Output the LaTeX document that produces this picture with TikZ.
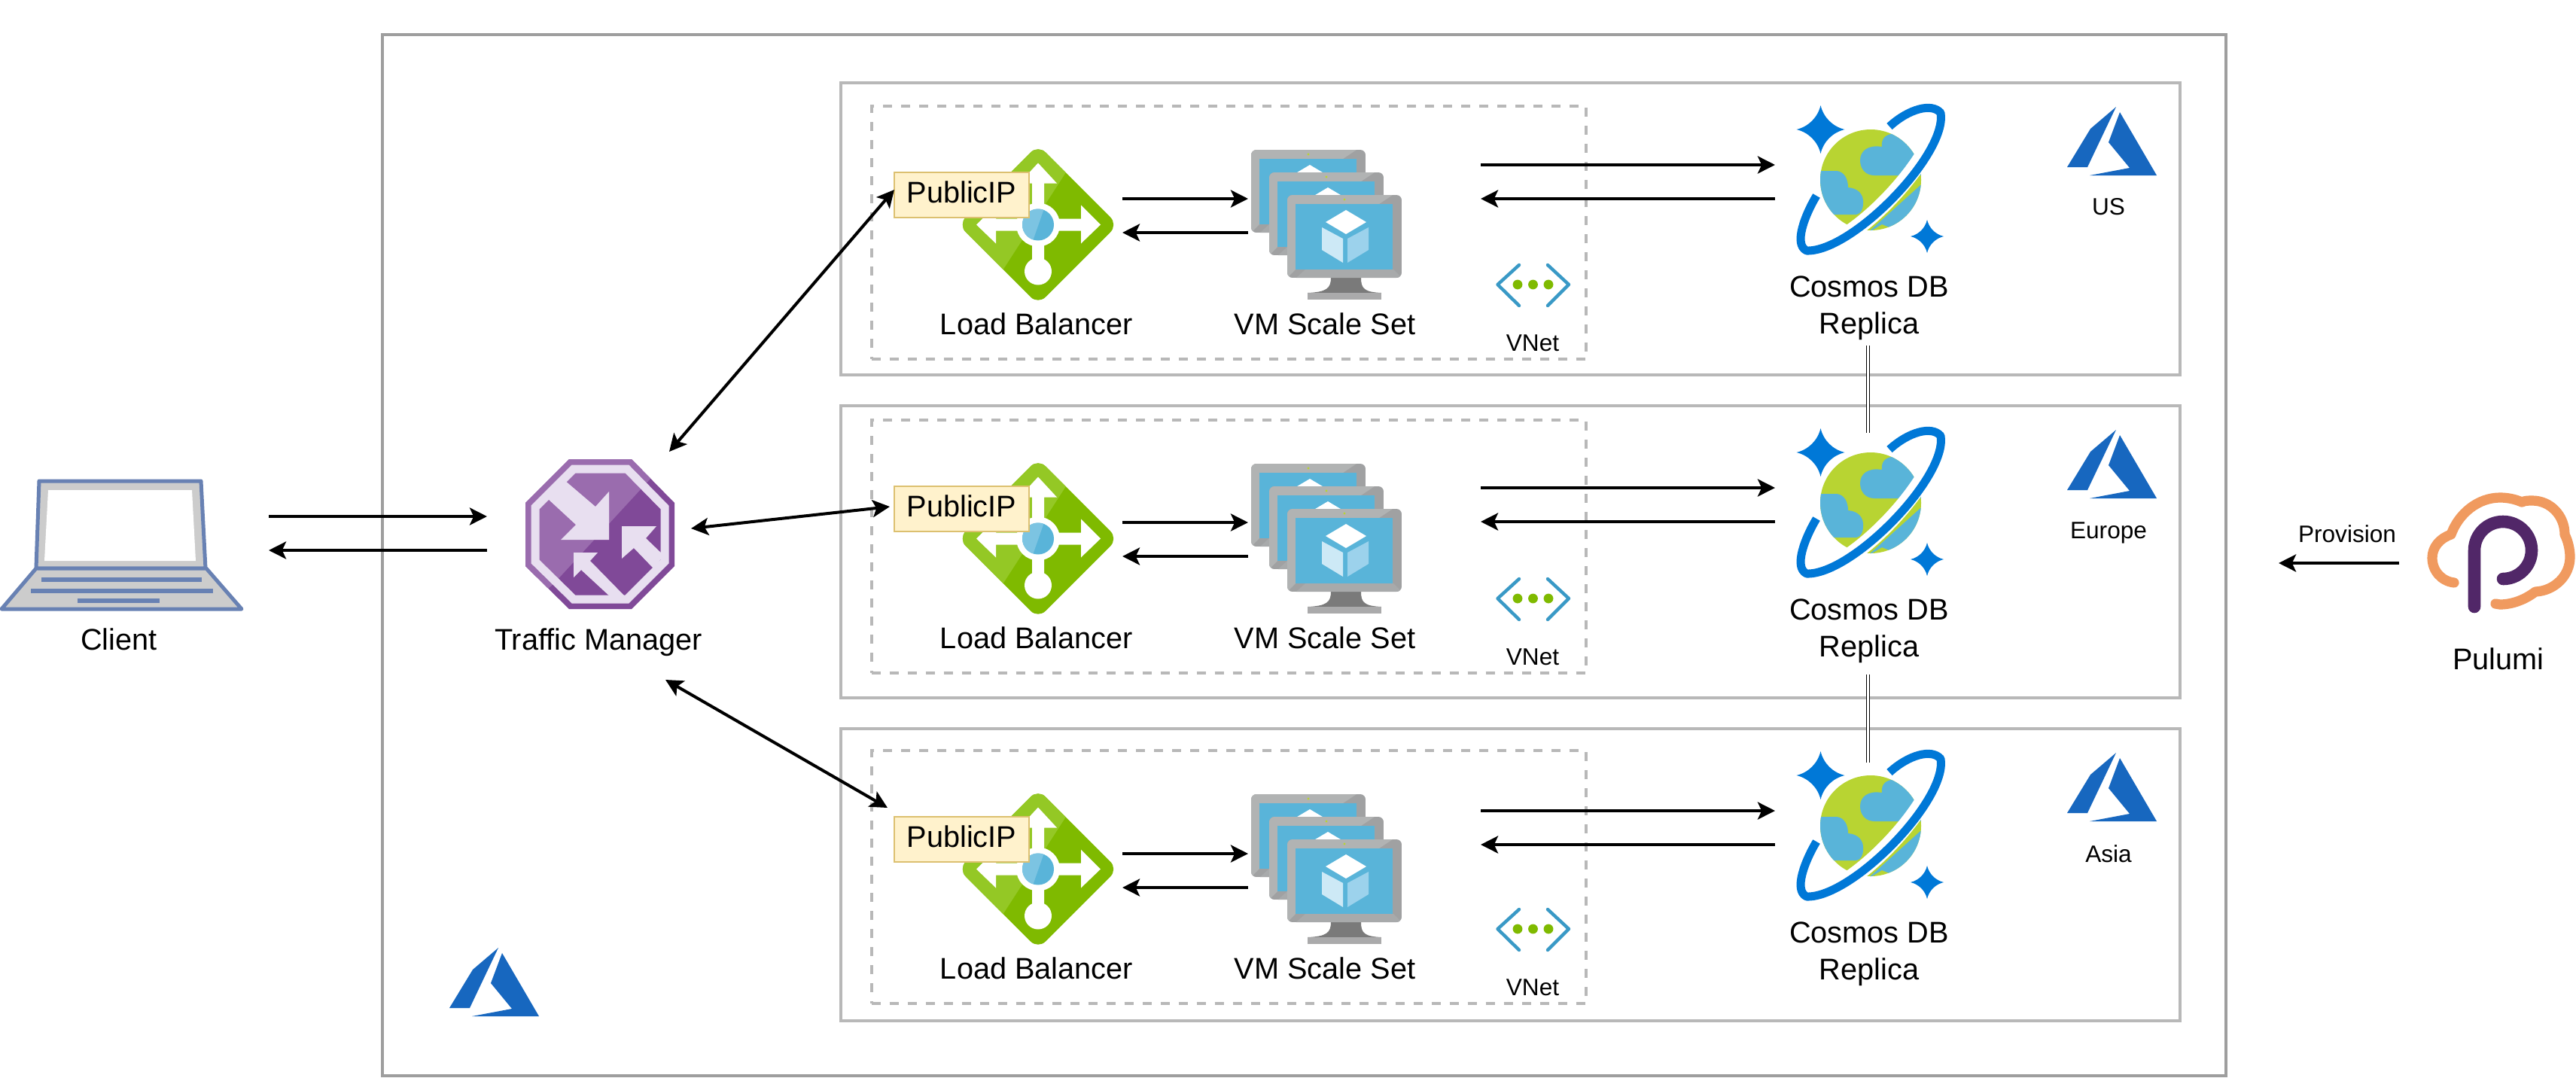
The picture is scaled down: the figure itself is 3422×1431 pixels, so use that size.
\documentclass[tikz,border=0pt]{standalone}
\usepackage{fontspec}
\setmainfont{Liberation Sans}
\usetikzlibrary{arrows.meta,calc}
\definecolor{frameC}{HTML}{9E9E9E}
\definecolor{regC}{HTML}{B8B8B8}
\definecolor{azureC}{HTML}{1767BF}
\definecolor{lbC}{HTML}{7FBA00}
\definecolor{lbL}{HTML}{94C825}
\definecolor{skyC}{HTML}{59B4D9}
\definecolor{skyL}{HTML}{7CC4E2}
\definecolor{monD}{HTML}{A0A1A2}
\definecolor{monL}{HTML}{B1B3B3}
\definecolor{monM}{HTML}{A8AAAB}
\definecolor{cubeL}{HTML}{CDE9F6}
\definecolor{cubeR}{HTML}{9CD2EC}
\definecolor{cosC}{HTML}{0078D7}
\definecolor{globeC}{HTML}{B8D432}
\definecolor{vnetC}{HTML}{3999C6}
\definecolor{tmD}{HTML}{804998}
\definecolor{tmM}{HTML}{9A6CAE}
\definecolor{tmL}{HTML}{E8DFF0}
\definecolor{lapC}{HTML}{6881B3}
\definecolor{pipF}{HTML}{FFF2CC}
\definecolor{pipS}{HTML}{DCC070}
\definecolor{pulO}{HTML}{F09A5F}
\definecolor{pulP}{HTML}{512768}
\tikzset{
  hit/.style={inner sep=0pt,outer sep=0pt,draw=none},
  framebox/.style={inner sep=0pt,outer sep=0pt,draw=frameC,line width=2pt},
  regionbox/.style={inner sep=0pt,outer sep=0pt,draw=regC,line width=2pt},
  vnetbox/.style={inner sep=0pt,outer sep=0pt,draw=regC,line width=2pt,dash pattern=on 6pt off 6pt},
  lbl/.style={inner sep=0pt,outer sep=0pt,font=\fontsize{19.85}{24.5}\selectfont,align=center},
  sml/.style={inner sep=0pt,outer sep=0pt,font=\fontsize{15.8}{19}\selectfont,align=center},
  pipbox/.style={inner sep=0pt,outer sep=0pt,draw=pipS,fill=pipF,line width=1pt,text depth=4pt,font=\fontsize{19.85}{24}\selectfont},
  tipA/.tip={Stealth[length=11.5pt,width=11.5pt,inset=2.6pt]},
  arr/.style={draw=black,line width=2pt,-{tipA}},
  arrb/.style={draw=black,line width=2pt,{tipA}-{tipA}},
  link/.style={draw=black,line width=0.65pt,double=white,double distance=1.35pt},
}
\newcommand\azlogo[2]{%
  \begin{scope}[shift={(#1,#2)}]
    \fill[azureC] (65,0) -- (31,29) -- (0,80) -- (27,80) -- cycle;
    \fill[azureC] (70,7) -- (55,47) -- (83,81) -- (30,91) -- (119,91) -- cycle;
  \end{scope}}
\newcommand\monitor[2]{%
  \begin{scope}[shift={(#1,#2)}]
    \begin{scope}
      \clip[rounded corners=3.5pt] (0,0) rectangle (152,110);
      \fill[monD] (0,0) rectangle (152,110);
      \fill[monL] (0,0) -- (140,0) -- (122,12) -- (11,12) -- (11,99) -- (0,110) -- cycle;
      \fill[monM] (24,99) -- (141,99) -- (152,110) -- (12,110) -- cycle;
    \end{scope}
    \fill[skyC] (11,12) rectangle (140,99);
    \fill[globeC] (76,6) circle[radius=0.8pt];
    \fill[white] (78,20) -- (105,36) -- (78,52) -- (51,36) -- cycle;
    \fill[cubeL] (46,43) -- (74,58) -- (74,90) -- (46,73) -- cycle;
    \fill[cubeR] (80,58) -- (108,43) -- (108,73) -- (80,90) -- cycle;
  \end{scope}}
\newcommand\sparkle[3]{%
  \fill[cosC] (#1,#2-#3) .. controls (#1+0.12*#3,#2-0.5*#3) and (#1+0.5*#3,#2-0.12*#3) .. (#1+#3,#2)
    .. controls (#1+0.5*#3,#2+0.12*#3) and (#1+0.12*#3,#2+0.5*#3) .. (#1,#2+#3)
    .. controls (#1-0.12*#3,#2+0.5*#3) and (#1-0.5*#3,#2+0.12*#3) .. (#1-#3,#2)
    .. controls (#1-0.5*#3,#2-0.12*#3) and (#1-0.12*#3,#2-0.5*#3) .. cycle;}
% #1 suffix, #2 region offset, #3 inner offset, #4 LB arrow offset, #5 region name, #6 region-label y
\newcommand\regionrow[6]{%
  \node[regionbox,minimum width=889.5pt,minimum height=194pt] (region#1) at (2006.5,304+#2) {};
  \node[vnetbox,minimum width=474.75pt,minimum height=168pt] (vnet#1) at (1632.25,309+#3) {};
  % load balancer
  \begin{scope}[shift={(1379,298.5+#3)}]
    \begin{scope}
      \clip[rounded corners=7pt] (0,-106) -- (106,0) -- (0,106) -- (-106,0) -- cycle;
      \fill[lbC] (-120,-120) rectangle (120,120);
      \fill[lbL] (36,-68) -- (-46,59) -- (-46,120) -- (-120,120) -- (-120,-120) -- (36,-120) -- cycle;
    \end{scope}
    \fill[white] (0,-82) -- (25,-55) -- (8,-55) -- (8,-8) -- (57,-8) -- (57,-26) -- (83,0) -- (57,25) -- (57,8)
      -- (8,8) -- (8,60) -- (-8,60) -- (-8,8) -- (-56,8) -- (-56,25) -- (-82,0) -- (-56,-26) -- (-56,-8)
      -- (-8,-8) -- (-8,-55) -- (-25,-55) -- cycle;
    \fill[white] (0,0) circle[radius=14.5pt];
    \fill[skyC] (0,0) circle[radius=10.5pt];
    \begin{scope}
      \clip (0,0) circle[radius=10.5pt];
      \fill[skyL] (-30,-30) -- (11,-30) -- (-10,30) -- (-30,30) -- cycle;
    \end{scope}
    \fill[white] (0,62) circle[radius=9pt];
  \end{scope}
  \node[hit,minimum width=112pt,minimum height=100pt] (lb#1) at (1379,298+#3) {};
  \node[pipbox,minimum width=89.5pt,minimum height=30pt] (pip#1) at (1277.5,259+#3) {PublicIP};
  \node[lbl] (lbl#1) at (1377,430+#3) {Load Balancer};
  % VM scale set
  \monitor{1662}{199+#3}
  \monitor{1686}{229+#3}
  \begin{scope}[shift={(0,#3)}]
    \fill[black!52] (1768,369) -- (1808,369) .. controls (1808,383) and (1812,388) .. (1835,389) -- (1737,389) .. controls (1762,388) and (1768,383) .. (1768,369) -- cycle;
    \fill[monD!90] (1737,389) rectangle (1835,398);
  \end{scope}
  \monitor{1710}{259+#3}
  \node[hit,minimum width=154.5pt,minimum height=100pt] (vm#1) at (1812.5,298+#3) {};
  \node[lbl] (vml#1) at (1760,430+#3) {VM Scale Set};
  % vnet icon
  \begin{scope}[shift={(0,#3)}]
    \draw[vnetC,line width=2.2pt,line join=round,line cap=round] (2018,352) -- (1989.5,378) -- (2018,406);
    \draw[vnetC,line width=2.2pt,line join=round,line cap=round] (2056,352) -- (2084,378) -- (2056,406);
    \fill[lbC] (2016,378) circle[radius=3.2pt];
    \fill[lbC] (2036.5,378) circle[radius=3.2pt];
    \fill[lbC] (2057,378) circle[radius=3.2pt];
  \end{scope}
  \node[sml] (vnl#1) at (2036,456+#3) {VNet};
  % cosmos
  \begin{scope}[shift={(0,#2)}]
    \sparkle{2418.5}{172}{32}
    \sparkle{2560}{314}{22}
    \begin{scope}
      \clip (2485,239) circle[radius=33.5pt];
      \fill[globeC] (2400,160) rectangle (2570,320);
      \fill[skyC] (2512,178) .. controls (2502,180) and (2499,187) .. (2500,195)
        .. controls (2482,192) and (2471,200) .. (2471,213)
        .. controls (2471,224) and (2478,233) .. (2490,233) -- (2560,233) -- (2560,170) -- cycle;
      \fill[skyC] (2410,227) -- (2440,227) .. controls (2450,228) and (2455,238) .. (2455,249)
        .. controls (2468,250) and (2476,258) .. (2475,270)
        .. controls (2475,278) and (2472,284) .. (2466,285) -- (2410,285) -- cycle;
      \fill[skyC] (2560,238) -- (2480,310) -- (2500,298) -- (2510,302) -- (2560,310) -- cycle;
    \end{scope}
    \draw[white,line width=11pt] (2578,150) .. controls (2570,215) and (2460,330) .. (2400,334);
    \draw[white,line width=6pt] (2510,168) -- (2530,152);
    \draw[cosC,line width=5.5pt,line join=round]
      (2510,168) .. controls (2535,145) and (2566,136) .. (2578,150)
      .. controls (2587,205) and (2460,335) .. (2400,333)
      .. controls (2382,325) and (2398,285) .. (2413,260);
  \end{scope}
  \node[hit,minimum width=123.3pt,minimum height=93pt] (cosmos#1) at (2481.3,239+#2) {};
  \node[lbl] (cdb#1) at (2483,409+#2) {Cosmos DB\\Replica};
  \azlogo{2746}{142+#2}
  \node[sml] (rn#1) at (2801,#6) {#5};
  % connectors inside the row
  \draw[arr] ($(lb#1.east)+(0,264+#4-298-#3)$) -- ($(vm#1.west)+(0,264+#4-298-#3)$);
  \draw[arr] ($(vm#1.west)+(0,309+#4-298-#3)$) -- ($(lb#1.east)+(0,309+#4-298-#3)$);
  \draw[arr] ($(vm#1.east)+(0,219+#2-298-#3)$) -- ($(cosmos#1.west)+(0,219+#2-239-#2)$);
  \draw[arr] ($(cosmos#1.west)+(0,264+#2-239-#2)$) -- ($(vm#1.east)+(0,264+#2-298-#3)$);
}
\begin{document}
\begin{tikzpicture}[x=0.5pt,y=-0.5pt]
\useasboundingbox (0,0) rectangle (3422,1431);
\fill[white] (0,0) rectangle (3422,1431);
\node[framebox,minimum width=1224.5pt,minimum height=691.5pt] (azure) at (1732,737.75) {};
\azlogo{597}{1259}
\regionrow{1}{0}{0}{0}{US}{275}
\regionrow{2}{429}{417}{430}{Europe}{707.5}
\regionrow{3}{858}{856}{870}{Asia}{1134}
% client
\draw[lapC,line width=2.5pt,fill=black!20,line join=round] (52,639) -- (267,639) -- (273,755) -- (48,755) -- cycle;
\fill[white] (64,651) -- (255,651) -- (260,745) -- (59,745) -- cycle;
\draw[lapC,line width=2.5pt,fill=black!20,line join=round] (48,755) -- (274,755) -- (321,809) -- (2,809) -- cycle;
\fill[lapC] (55,767) rectangle (268,773);
\fill[lapC] (41,782) rectangle (282.5,787.5);
\fill[lapC] (103,795) rectangle (212,801);
\node[hit,minimum width=178pt,minimum height=90pt] (client) at (179,708.5) {};
\node[lbl] (clientl) at (158,849) {Client};
% traffic manager
\begin{scope}
  \clip (756,610) -- (839,610) -- (896,668) -- (896,752) -- (839,809) -- (756,809) -- (698,752) -- (698,668) -- cycle;
  \fill[tmD] (690,600) rectangle (900,815);
  \fill[tmM] (864,636) -- (735,776) -- (690,815) -- (690,600) -- (864,600) -- cycle;
\end{scope}
\draw[tmL,line width=5.5pt,line join=miter] (762,623) -- (833,623) -- (883,674) -- (883,746) -- (833,796) -- (762,796) -- (711,746) -- (711,674) -- cycle;
\fill[tmL] (750,638) -- (791,673) -- (809,653) -- (809,717) -- (745,717) -- (765,697) -- (726,661) -- cycle;
\fill[tmL] (826,699) -- (872,699) -- (858,715) -- (882,738) -- (868,755) -- (842,728) -- (826,742) -- cycle;
\fill[tmL] (762,734) -- (794,734) -- (784,745) -- (831,793) -- (811,793) -- (772,757) -- (762,767) -- cycle;
\node[hit,minimum width=150pt,minimum height=100pt] (tm) at (797,710) {};
\node[lbl] (tml) at (795,853) {Traffic Manager};
% pulumi
\draw[pulO,line width=6.6pt,line cap=round,line join=round]
  (3260,774) .. controls (3243,772) and (3231,758) .. (3231,741)
  .. controls (3231,727) and (3241,715) .. (3256,710)
  .. controls (3266,682) and (3292,661) .. (3321,661)
  .. controls (3331,661) and (3341,663) .. (3350,667)
  .. controls (3354,665) and (3359,665) .. (3364,665)
  .. controls (3388,665) and (3407,685) .. (3407,710)
  .. controls (3411,718) and (3414,729) .. (3414,740)
  .. controls (3414,765) and (3393,785) .. (3368,786)
  .. controls (3355,796) and (3338,803) .. (3321,803)
  -- (3315,802);
\draw[pulP,line width=8.3pt,line cap=round,line join=round]
  (3287,806) -- (3287,731)
  .. controls (3287,710) and (3304,693) .. (3325,693)
  .. controls (3346,693) and (3363,710) .. (3363,731)
  .. controls (3363,752) and (3346,769) .. (3325,769);
\node[hit,minimum width=132pt,minimum height=100pt] (pulumi) at (3319,748) {};
\node[lbl] (puluml) at (3319,875) {Pulumi};
\node[sml] (provl) at (3118,709) {Provision};
\coordinate (provEnd) at (3027,748);
% connectors
\draw[arr] ($(client.east)+(0,-22.5)$) -- ($(tm.west)+(0,-24)$);
\draw[arr] ($(tm.west)+(0,21)$) -- ($(client.east)+(0,22.5)$);
\draw[arrb] ($(tm)+(92,-110)$) -- ($(pip1.west)+(0,-7)$);
\draw[arrb] ($(tm)+(121,-8)$) -- ($(pip2.west)+(-6,-3)$);
\draw[arrb] ($(tm)+(87,193)$) -- ($(pip3.west)+(-9,-42)$);
\draw[arr] (pulumi.west) -- (provEnd);
\draw[link] ($(cosmos1.south)+(0,127)$) -- (cosmos2.north);
\draw[link] ($(cosmos2.south)+(0,135)$) -- ($(cosmos3.north)+(0,8.5)$);
\end{tikzpicture}
\end{document}
